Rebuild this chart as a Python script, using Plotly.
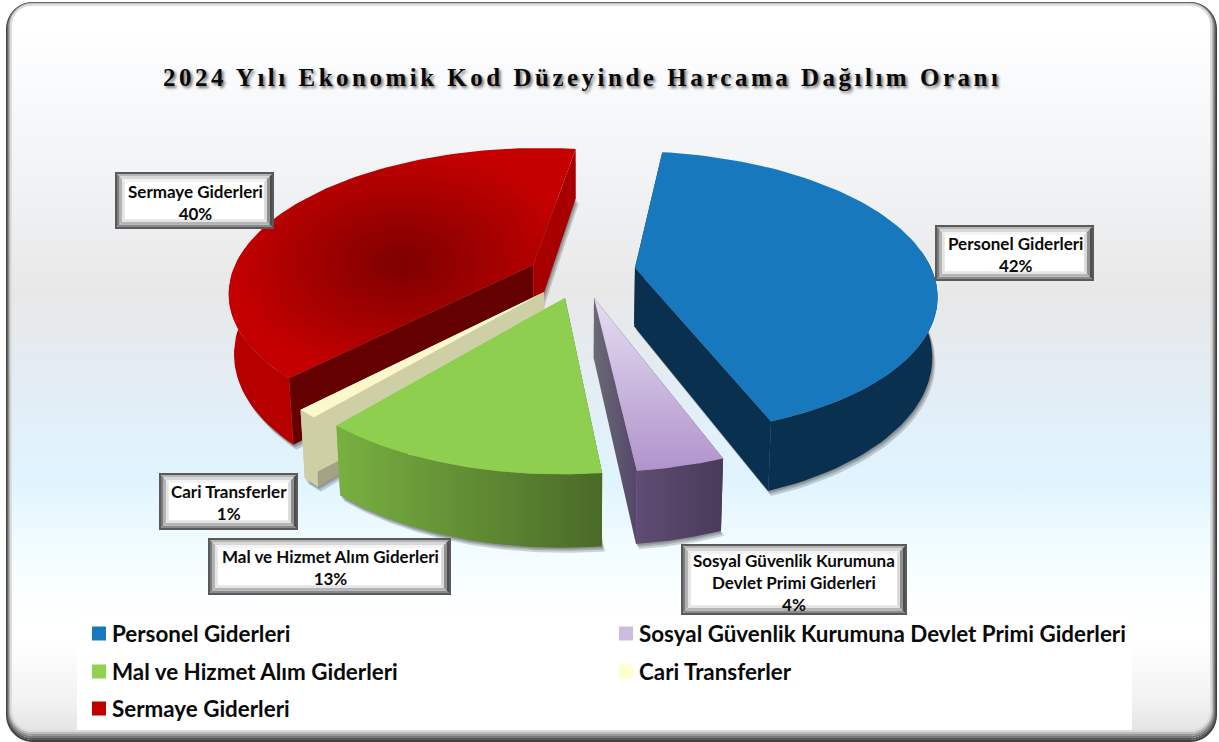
import numpy as np
import plotly.graph_objects as go

TITLE = "2024 Yılı Ekonomik Kod Düzeyinde Harcama Dağılım Oranı"
CATEGORIES = ["Personel Giderleri", "Sosyal Güvenlik Kurumuna Devlet Primi Giderleri",
              "Mal ve Hizmet Alım Giderleri", "Cari Transferler", "Sermaye Giderleri"]
LABEL_TEXT = ["Personel Giderleri", "Sosyal Güvenlik Kurumuna<br>Devlet Primi Giderleri",
              "Mal ve Hizmet Alım Giderleri", "Cari Transferler", "Sermaye Giderleri"]
VALUES = [42, 4, 13, 1, 40]

# --- view geometry of the tilted pie (pixels of the axes) ---
CX, CY, RX, RY, PERSP, DEPTH, START = 582, 265, 298, 137.6, 0.176, 58, 8.0
EXPLODE = [(0.177, 0.022), (0.0386, 0.23), (-0.0547, 0.23), (-0.123, 0.19), (-0.164, 0.0)]
SCALE = [0.99, 0.96, 0.97, 0.97, 1.0]


def project(a, b, low=False):
    w = 1 - PERSP * b
    x = CX + RX * a / w
    y = CY + RY * b / w
    if low:
        x = CX + (x - CX) * 0.985
        y = y + DEPTH / w
    return x, y


def arc(i, s, e, low=False, n=90):
    ph = np.radians(np.linspace(s, e, n))
    return project(EXPLODE[i][0] + SCALE[i] * np.sin(ph), EXPLODE[i][1] - SCALE[i] * np.cos(ph), low)


def grad(kind, c0, c1):
    return dict(type=kind, colorscale=[[0, c0], [1, c1]])


TOP = [
    dict(fillcolor="#1878BE"),
    dict(fillgradient=grad("vertical", "#B193CC", "#E4DEF0")),
    dict(fillcolor="#8ECF50"),
    dict(fillcolor="#FBF9CB"),
    dict(fillgradient=grad("radial", "#7E0000", "#C40000")),
]
RIM = [
    dict(fillcolor="#0A3050"),
    dict(fillgradient=grad("horizontal", "#604C74", "#483A58")),
    dict(fillgradient=grad("horizontal", "#78B040", "#4A6A28")),
    dict(fillcolor="#CFCFA5"),
    dict(fillcolor="#B60000"),
]
FACE_START = [dict(fillcolor="#0A3050"), dict(fillcolor="#483A58"), dict(fillcolor="#4A6A28"),
              dict(fillcolor="#A3A282"), dict(fillcolor="#650000")]
FACE_END = [dict(fillcolor="#0A3050"), dict(fillgradient=grad("horizontal", "#6A6A74", "#55466A")),
            dict(fillcolor="#78B040"), dict(fillcolor="#CFCFA5"), dict(fillcolor="#A80000")]
SWATCH = ["#1878BE", "#CDBBE0", "#92D050", "#FFFFCC", "#BE0000"]
DRAW_ORDER = [4, 3, 0, 2, 1]

fig = go.Figure()


def poly(x, y, **style):
    fig.add_trace(go.Scatter(x=x, y=y, mode="lines", fill="toself", line=dict(width=0),
                             hoverinfo="skip", showlegend=False, **style))


# rounded panel with the banded background
L, T, R, B, RAD = 7, 3, 1216, 741, 26
t = np.linspace(0, np.pi / 2, 14)


def rounded(l, tp, r, b, rad):
    xs = np.concatenate([l + rad - rad * np.cos(t), r - rad + rad * np.sin(t),
                         r - rad + rad * np.cos(t), l + rad - rad * np.sin(t)])
    ys = np.concatenate([tp + rad - rad * np.sin(t), tp + rad - rad * np.cos(t),
                         b - rad + rad * np.sin(t), b - rad + rad * np.cos(t)])
    return xs, ys


bx, by = rounded(L, T, R, B, RAD)
fig.add_trace(go.Scatter(
    x=bx, y=by, mode="lines", fill="toself", line=dict(width=0), hoverinfo="skip", showlegend=False,
    fillgradient=dict(type="vertical", colorscale=[
        [0, "#E0E0E0"], [0.055, "#F2F2F2"], [0.137, "#FFFFFF"], [0.19, "#FCFFFF"], [0.27, "#F0FCFF"],
        [0.354, "#E0F4FF"], [0.46, "#E2EEF6"], [0.61, "#E8E8E8"], [0.733, "#F0F1F3"],
        [0.87, "#F8F9FB"], [0.96, "#FFFFFF"], [1, "#FFFFFF"]])))

# soft shadow
starts = START + np.cumsum([0] + VALUES[:-1]) * 3.6
ends = starts + np.array(VALUES) * 3.6
for i in DRAW_ORDER:
    ax2, ay2 = project(*EXPLODE[i], low=True)
    lx, ly = arc(i, starts[i], ends[i], low=True)
    for off in (5, 3, 1.5):
        poly(np.r_[ax2, lx] + off * 0.6, np.r_[ay2, ly] + off, fillcolor="rgba(40,40,40,0.20)")

for i in DRAW_ORDER:
    s, e = starts[i], ends[i]
    ax, ay = project(*EXPLODE[i])
    ax2, ay2 = project(*EXPLODE[i], low=True)
    hx, hy = arc(i, s, e)
    lx, ly = arc(i, s, e, low=True)
    poly([ax, hx[0], lx[0], ax2], [ay, hy[0], ly[0], ay2], **FACE_START[i])
    poly([ax, hx[-1], lx[-1], ax2], [ay, hy[-1], ly[-1], ay2], **FACE_END[i])
    ph = np.radians(np.linspace(s, e, 90)) % (2 * np.pi)
    vis = np.cos(ph) < 0.15
    if vis.any():
        poly(np.r_[hx[vis], lx[vis][::-1]], np.r_[hy[vis], ly[vis][::-1]], **RIM[i])
    poly(np.r_[ax, hx], np.r_[ay, hy], **TOP[i])

# one legend per entry, so the two-column layout keeps its row spacing
LEG_POS = [(72, 634), (599, 634), (72, 672), (599, 672), (72, 709)]
legend_layout = {}
for k, name in enumerate(CATEGORIES):
    key = "legend" if k == 0 else f"legend{k + 1}"
    fig.add_trace(go.Scatter(x=[None], y=[None], mode="markers", name=name, legend=key,
                             marker=dict(symbol="square", size=14, color=SWATCH[k]),
                             hoverinfo="skip"))
    lx0, ly0 = LEG_POS[k]
    legend_layout[key] = dict(x=lx0 / 1219, y=1 - ly0 / 742, xanchor="left", yanchor="middle",
                              bgcolor="rgba(0,0,0,0)", itemclick=False, itemdoubleclick=False,
                              font=dict(family="Lato", size=22.4, color="#0A0A0A", weight="bold"))

# bevelled label boxes
BOXES = [(936, 226, 1093, 280), (682, 545, 906, 614), (209, 539, 450, 594),
         (160, 474, 297, 529), (116, 173, 273, 228)]
LABEL_MID = [(1015, 254), (794, 582), (330, 567), (229, 502), (195, 202)]
BEVEL_TOP = ["#B4B4B4", "#D8D8D8", "#F2F2F2"]
BEVEL_BOTTOM = ["#8A8A8A", "#B4B4B4", "#E4E4E4"]
BEVEL_LEFT = ["#7C7C7C", "#B4B4B4", "#E4E4E4"]
BEVEL_RIGHT = ["#4E4E4E", "#8E8E8E", "#D8D8D8"]
shapes = []


def rectpath(pts):
    return "M" + "L".join(f"{a},{b}" for a, b in pts) + "Z"


for (x0, y0, x1, y1) in BOXES:
    shapes.append(dict(type="rect", x0=x0, y0=y0, x1=x1, y1=y1, fillcolor="#FFFFFF",
                       line=dict(color="#5A5A5A", width=2)))
    for r in range(3):
        a, b = 1 + r * 2.6, 1 + (r + 1) * 2.6
        trap = [
            ([(x0+a, y0+a), (x1-a, y0+a), (x1-b, y0+b), (x0+b, y0+b)], BEVEL_TOP[r]),
            ([(x0+a, y1-a), (x1-a, y1-a), (x1-b, y1-b), (x0+b, y1-b)], BEVEL_BOTTOM[r]),
            ([(x0+a, y0+a), (x0+b, y0+b), (x0+b, y1-b), (x0+a, y1-a)], BEVEL_LEFT[r]),
            ([(x1-a, y0+a), (x1-b, y0+b), (x1-b, y1-b), (x1-a, y1-a)], BEVEL_RIGHT[r]),
        ]
        for pts, col in trap:
            shapes.append(dict(type="path", path=rectpath(pts), fillcolor=col, line=dict(width=0)))

# white legend panel, then the frame edge
shapes.append(dict(type="rect", x0=77, y0=615, x1=1132, y1=730, fillcolor="#FFFFFF", line=dict(width=0)))
RAMP = ["#404040", "#585858", "#787878", "#989898", "#BCBCBC", "#DCDCDC"]
for i, col in enumerate(RAMP):
    px, py = rounded(L + i * 0.8, T + i * 0.3, R - i * 1.0, B - i * 2.0, RAD - i)
    path = "M" + "L".join(f"{a:.1f},{b:.1f}" for a, b in zip(px, py)) + "Z"
    shapes.append(dict(type="path", path=path, line=dict(color=col, width=2), fillcolor="rgba(0,0,0,0)"))

annotations = [
    dict(x=mx, y=my, text=f"{lab}<br>{val}%", showarrow=False, xref="x", yref="y",
         font=dict(family="Lato", size=17, color="#0A0A0A", weight="bold"))
    for lab, val, (mx, my) in zip(LABEL_TEXT, VALUES, LABEL_MID)
]

fig.update_layout(
    width=1219, height=742, margin=dict(l=0, r=0, t=0, b=0),
    paper_bgcolor="#FFFFFF", plot_bgcolor="rgba(0,0,0,0)",
    title=dict(text=TITLE, x=163 / 1219, xanchor="left", y=1 - 77 / 742, yanchor="middle",
               font=dict(family="Liberation Serif", size=25, color="#0A0A0A", weight="bold",
                         shadow="2px 2px 3px rgba(0,0,0,0.55)")),
    xaxis=dict(range=[0, 1219], visible=False, fixedrange=True),
    yaxis=dict(range=[742, 0], visible=False, fixedrange=True),
    shapes=shapes, annotations=annotations, **legend_layout,
)

POST = """
document.body.style.margin='0';
var gt=document.querySelector('.gtitle'); if(gt){gt.style.letterSpacing='3.5px';}
document.querySelectorAll('.legendsymbols').forEach(function(n){n.setAttribute('transform','translate(7,0)');});
"""
fig.write_html("out.html", post_script=POST, config=dict(displayModeBar=False))
